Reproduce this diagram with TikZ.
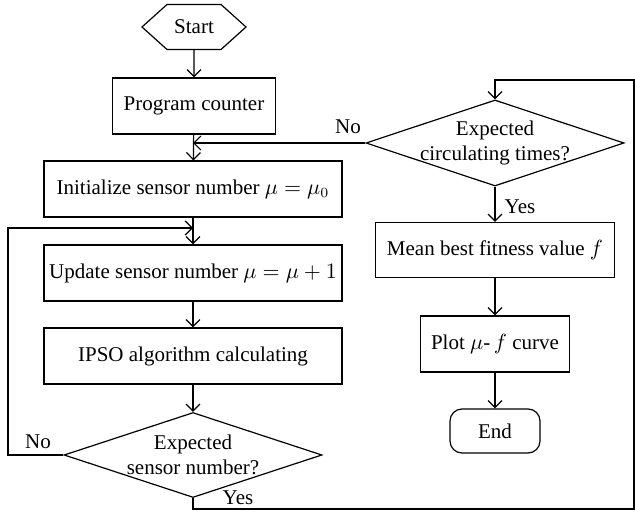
\documentclass[tikz,border=0pt]{standalone}
\usepackage{fontspec}
\setmainfont{Liberation Serif}
\usetikzlibrary{arrows.meta}
\usetikzlibrary{shapes.geometric,shapes.symbols}

\begin{document}
\begin{tikzpicture}[x=0.5pt,y=-0.5pt,>={Straight Barb[length=3.5pt,width=7pt]},line width=0.6pt,
    every node/.style={font=\fontsize{10.5}{12.5}\selectfont},
    procbox/.style={draw,rectangle,inner sep=0pt,minimum height=28pt},
    testbox/.style={draw,diamond,aspect=3,inner xsep=-3pt,inner ysep=-1pt,minimum width=129pt,minimum height=42.5pt,align=center},
    startbox/.style={draw,signal,signal to=east and west,signal pointer angle=84,inner sep=0pt,minimum width=52pt,minimum height=22.5pt},
    endbox/.style={draw,rectangle,rounded corners=6pt,inner sep=0pt,minimum width=45pt,minimum height=22pt}]
				\useasboundingbox (0,0) rectangle (635,512);
				% Colonne de gauche
				\node [startbox] (start) at (194,27) {Start};
				\node [procbox,minimum width=81.5pt] (prog) at (194,106) {Program counter};
				\node [procbox,minimum width=149pt] (init) at (193,189) {Initialize sensor number $\mu = \mu_0$};
				\node [procbox,minimum width=149pt] (update) at (193,273) {Update sensor number $\mu = \mu + 1$};
				\node [procbox,minimum width=149pt] (ipso) at (193,356) {IPSO algorithm calculating};
				\node [testbox] (test1) at (193,455) {Expected\\sensor number?};
				% Colonne de droite
				\node [testbox] (test2) at (495,143) {Expected\\circulating times?};
				\node [procbox,minimum width=119.5pt,minimum height=27.5pt] (mean) at (495,250) {Mean best fitness value $f$};
				\node [procbox,minimum width=74.5pt] (plot) at (495,344) {Plot $\mu$-$\,f$ curve};
				\node [endbox] (end) at (495,431) {End};
				% Points de passage
				\coordinate (loopin) at (193,228);
				\coordinate (backin) at (193,143);
				\coordinate (lowL) at (193,509);
				\coordinate (lowR) at (634,509);
				\coordinate (topR) at (634,80);
				% Flèches
				\draw [->] (start) -- (prog);
				\draw [->] (prog) -- (init);
				\draw [->] (init) -- (update);
				\draw [->] (update) -- (ipso);
				\draw [->] (ipso) -- (test1);
				\draw [->] (test1.west) -| (8,228) -- (loopin);
				\draw [->] (test1.south) -- (lowL) -- (lowR) -- (topR) -| (test2.north);
				\draw [->] (test2.west) -- (backin);
				\draw [->] (test2) -- (mean);
				\draw [->] (mean) -- (plot);
				\draw [->] (plot) -- (end);
				% Étiquettes
				\node (no1) at (38,442) {No};
				\node (yes1) at (238,498) {Yes};
				\node (no2) at (348,127) {No};
				\node (yes2) at (520,207) {Yes};
\end{tikzpicture}
\end{document}
